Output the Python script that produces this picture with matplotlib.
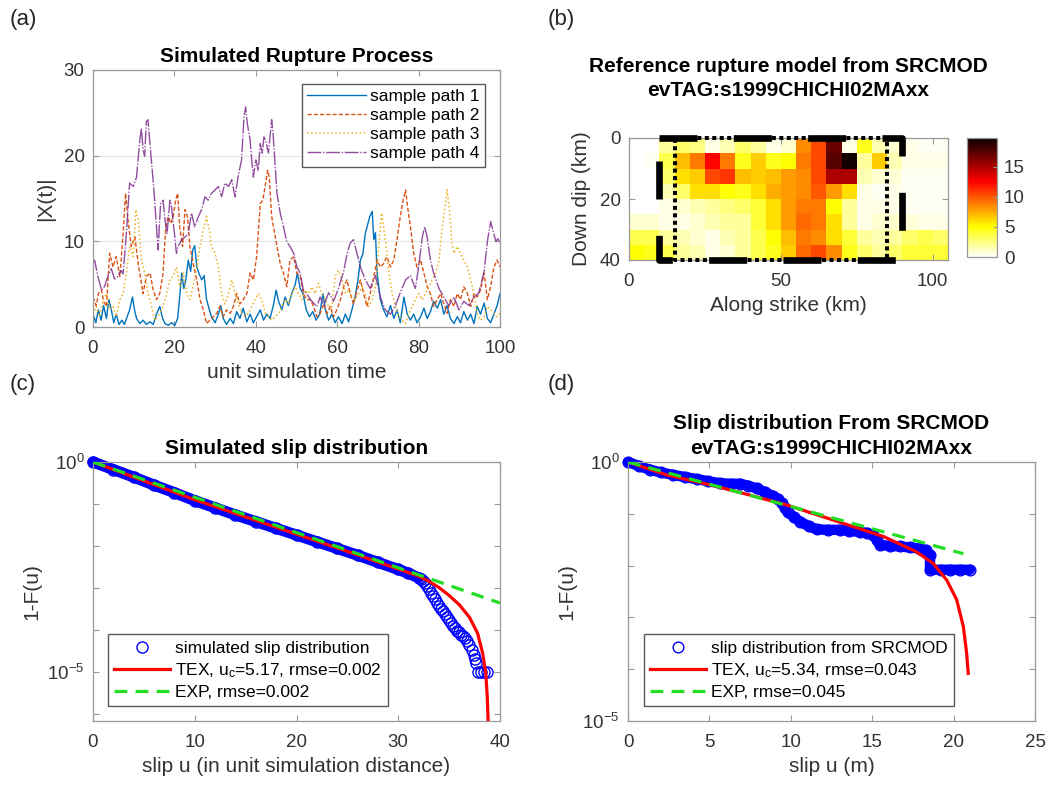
import numpy as np
import matplotlib
matplotlib.use('Agg')
import matplotlib.pyplot as plt
from matplotlib.lines import Line2D
from matplotlib.ticker import NullLocator

# ---------------- data ----------------
# (a) sample paths |X(t)|
path1_t = [0, 0.7, 1.3, 2.0, 2.6, 3.3, 3.9, 4.5, 5.1, 5.7, 6.4, 7.1, 7.7, 8.4, 9.0, 9.7, 10.2, 10.7,
           11.5, 12.3, 13.1, 14.0, 14.8, 15.6, 16.4, 17.1, 17.7, 18.5, 19.3, 20.1, 20.8, 21.3, 21.8,
           22.3, 22.8, 23.4, 24.0, 24.5, 25.0, 25.5, 26.0, 26.7, 27.3, 27.9, 28.6, 29.1, 30.0, 30.8,
           31.4, 32.0, 32.8, 33.7, 34.5, 35.3, 36.1, 36.9, 37.8, 38.6, 39.4, 40.2, 41.1, 41.9, 42.7,
           43.5, 44.3, 45.0, 45.6, 46.4, 47.2, 48.0, 48.9, 49.7, 50.2, 50.9, 51.6, 52.4, 53.2, 54.0,
           54.8, 55.7, 56.5, 57.1, 57.9, 58.7, 59.5, 60.3, 61.2, 62.0, 62.8, 63.6, 64.4, 65.1, 65.7,
           66.3, 66.9, 67.5, 68.0, 68.6, 69.0, 69.4, 69.8, 70.6, 71.4, 72.2, 73.1, 73.9, 74.7, 75.5,
           76.4, 77.2, 78.0, 78.8, 79.6, 80.5, 81.3, 82.1, 82.9, 83.7, 84.6, 85.4, 86.2, 87.0, 87.8,
           88.7, 89.5, 90.3, 91.1, 92.0, 92.8, 93.6, 94.4, 95.2, 96.1, 96.9, 97.7, 98.5, 99.3, 100]
path1_x = [1.5, 0.5, 2.0, 0.8, 2.5, 1.0, 3.2, 2.0, 0.5, 1.5, 0.3, 0.8, 0.3, 1.2, 2.0, 3.5, 2.0, 1.0,
           0.4, 0.8, 0.3, 0.6, 0.3, 1.5, 2.4, 1.0, 0.4, 0.2, 0.5, 0.2, 1.0, 3.5, 6.3,
           4.5, 5.5, 7.8, 6.5, 9.0, 9.5, 7.0, 6.3, 5.5, 6.0, 3.2, 2.0, 1.2, 0.5, 1.5,
           2.5, 1.0, 0.3, 1.0, 0.4, 1.8, 1.0, 2.2, 0.6, 1.5, 0.5, 1.2, 2.0, 0.8, 1.5,
           1.0, 2.5, 4.3, 3.0, 2.0, 3.5, 2.5, 4.0, 5.0, 6.3, 4.5, 3.9, 2.0, 1.2, 1.8,
           0.8, 1.5, 3.9, 2.0, 0.8, 1.5, 0.5, 1.2, 0.4, 1.5, 0.6, 2.0, 3.5, 5.5, 7.8,
           8.5, 10.9, 12.0, 12.9, 13.5, 10.2, 11.0, 6.3, 3.2, 2.0, 1.2, 2.5, 1.0, 2.0, 0.5,
           3.5, 1.5, 0.8, 1.5, 0.5, 1.2, 2.2, 1.0, 1.8, 3.0, 2.2, 3.2, 1.5, 2.5, 1.0,
           0.4, 1.2, 0.5, 1.8, 0.8, 1.5, 0.4, 2.4, 1.5, 2.8, 1.0, 0.5, 1.5, 2.5, 3.9]

path2_t = [0, 0.8, 1.4, 2.1, 2.6, 3.3, 4.1, 4.9, 5.7, 6.6, 7.4, 8.0, 8.6, 9.4, 10.3, 11.1, 11.5, 12.3,
           13.1, 14.0, 14.8, 15.6, 16.4, 17.2, 17.9, 18.5, 19.1, 19.7, 20.3, 20.8, 21.3, 22.0, 22.6,
           23.2, 23.8, 24.6, 25.5, 26.3, 27.1, 27.9, 28.7, 29.6, 30.4, 31.2, 32.0, 32.8, 33.7, 34.5,
           35.3, 36.1, 36.9, 37.8, 38.6, 39.4, 40.2, 41.1, 41.7, 42.3, 42.9, 43.3, 43.9, 44.5, 45.2,
           46.0, 46.8, 47.6, 48.4, 49.3, 50.1, 50.9, 51.7, 52.5, 53.4, 54.2, 55.0, 55.8, 56.7, 57.5,
           58.3, 59.1, 59.9, 60.8, 61.6, 62.4, 63.2, 64.0, 64.9, 65.7, 66.5, 67.3, 68.1, 69.0, 69.8,
           70.6, 71.4, 72.2, 73.1, 73.9, 74.7, 75.5, 76.2, 76.8, 77.3, 78.0, 78.8, 79.6, 80.5, 81.3,
           82.1, 82.9, 83.7, 84.6, 85.4, 86.2, 87.0, 87.8, 88.7, 89.5, 90.3, 91.1, 92.0, 92.8, 93.6,
           94.4, 95.2, 96.1, 96.9, 97.7, 98.5, 99.3, 100]
path2_x = [3.5, 2.5, 4.0, 4.3, 3.0, 2.4, 8.6, 7.0, 8.2, 5.9, 10.9, 15.6, 12.5, 9.4, 10.5, 7.4, 6.3, 3.9,
           5.9, 6.3, 4.3, 3.2, 3.9, 6.3, 11.7, 12.9, 12.1, 12.9, 14.8, 15.6, 11.7, 9.4, 13.7,
           12.9, 9.4, 7.4, 5.5, 3.2, 2.0, 0.4, 0.8, 1.2, 1.6, 2.4, 1.2, 2.0, 1.6, 2.4,
           3.9, 2.7, 3.2, 3.9, 6.3, 5.5, 8.2, 14.4, 14.8, 16.4, 18.3, 17.5, 12.9, 11.3, 9.4,
           7.4, 6.3, 4.7, 7.8, 8.2, 6.3, 5.9, 3.9, 3.2, 3.2, 2.4, 1.2, 1.6, 2.7, 1.6,
           2.4, 1.2, 2.0, 3.2, 4.7, 5.5, 3.9, 2.7, 4.3, 5.5, 3.9, 2.4, 3.9, 5.9, 7.8,
           7.0, 7.4, 8.2, 7.0, 7.8, 10.2, 12.9, 14.8, 16.0, 14.0, 11.7, 8.6, 7.0, 7.8, 6.3,
           4.7, 3.9, 2.4, 3.2, 3.9, 2.7, 1.6, 3.2, 2.4, 3.9, 3.2, 4.7, 3.9, 2.4, 3.9,
           3.5, 4.3, 6.3, 3.2, 4.7, 7.0, 7.8, 7.0]

path3_t = [0, 0.8, 1.6, 2.5, 3.3, 4.1, 4.9, 5.7, 6.6, 7.4, 8.2, 9.0, 9.9, 10.5, 11.1, 11.9, 12.7, 13.5,
           14.4, 15.2, 16.4, 17.2, 18.1, 18.9, 19.7, 20.5, 21.3, 22.2, 23.0, 23.8, 24.6, 25.5, 26.3,
           27.1, 27.9, 28.6, 29.1, 30.0, 30.8, 31.6, 32.4, 33.3, 34.1, 34.9, 35.7, 36.5, 37.4, 38.2,
           39.0, 39.8, 40.6, 41.5, 42.3, 43.1, 43.9, 44.7, 45.6, 46.4, 47.2, 48.0, 48.9, 49.7, 50.5,
           51.3, 52.1, 53.0, 53.8, 54.6, 55.4, 56.2, 57.1, 57.9, 58.7, 59.5, 60.3, 61.2, 62.0, 62.8,
           63.6, 64.4, 65.3, 66.1, 66.9, 67.7, 68.6, 69.4, 70.2, 70.9, 71.4, 72.0, 72.7, 73.5, 74.3,
           75.1, 75.9, 76.8, 77.6, 78.4, 79.2, 80.0, 80.9, 81.7, 82.5, 83.3, 84.2, 85.0, 85.8, 86.5,
           87.0, 87.6, 88.1, 88.7, 89.5, 90.3, 91.1, 92.0, 92.8, 93.6, 94.4, 95.2, 96.1, 96.9, 97.7,
           98.5, 99.3, 100]
path3_x = [1.5, 2.4, 1.2, 3.2, 3.9, 2.0, 2.4, 1.2, 3.2, 3.9, 6.3, 9.4, 8.2, 13.7, 12.5, 7.8, 6.3, 3.9,
           2.4, 0.8, 1.6, 2.4, 3.9, 5.5, 5.9, 7.0, 4.7, 6.3, 3.9, 3.2, 4.7, 7.0, 9.4,
           11.3, 12.9, 11.3, 9.4, 8.6, 7.0, 3.9, 2.7, 3.9, 5.5, 3.9, 2.7, 1.6, 1.2, 1.6,
           2.4, 3.2, 3.9, 3.2, 1.6, 1.2, 0.8, 1.2, 1.6, 2.4, 3.2, 2.7, 3.9, 4.7, 3.9,
           3.2, 4.3, 3.9, 4.7, 3.9, 5.1, 3.9, 3.2, 2.4, 2.4, 5.9, 6.6, 5.5, 3.9, 4.3,
           3.5, 3.2, 3.9, 4.7, 3.9, 2.4, 3.2, 4.7, 9.4, 13.3, 11.7, 9.4, 6.3, 3.9, 2.4,
           1.2, 0.8, 0.4, 1.6, 2.4, 3.2, 3.9, 3.2, 3.9, 4.7, 5.5, 6.3, 7.8, 11.7, 14.0,
           16.0, 13.7, 10.2, 8.6, 9.4, 8.6, 7.8, 7.0, 5.5, 3.9, 1.6, 0.8, 1.2, 2.4, 2.0,
           1.6, 1.2, 1.6]

path4_t = [0, 0.4, 1.2, 2.1, 2.9, 3.7, 4.5, 5.3, 6.1, 6.9, 7.4, 8.2, 9.0, 9.9, 10.7, 11.5, 11.9, 12.3,
           12.7, 13.1, 13.5, 14.4, 14.9, 15.6, 16.0, 16.6, 17.2, 17.7, 18.2, 18.9, 19.3, 20.1, 20.5,
           20.9, 21.8, 22.6, 23.4, 24.2, 25.0, 25.9, 26.7, 27.5, 28.3, 29.1, 30.0, 30.8, 31.6, 32.4,
           33.3, 34.1, 34.9, 35.7, 36.5, 37.1, 37.5, 37.9, 38.6, 39.0, 39.4, 40.0, 40.6, 41.1, 41.6,
           42.0, 42.4, 43.1, 43.9, 44.3, 45.2, 46.0, 46.8, 47.6, 48.4, 49.3, 50.1, 50.9, 51.7, 52.5,
           53.4, 54.2, 55.0, 55.8, 56.7, 57.9, 59.1, 60.3, 61.6, 62.4, 63.2, 64.0, 64.9, 65.7, 66.9,
           68.1, 69.4, 70.6, 71.8, 73.1, 74.3, 75.5, 76.8, 78.0, 79.2, 80.0, 80.9, 81.5, 82.1, 82.9,
           83.7, 85.0, 86.2, 87.4, 88.7, 89.9, 91.1, 92.4, 93.6, 94.8, 96.1, 96.9, 97.7, 98.4, 99.0,
           99.5, 100]
path4_x = [7.5, 7.8, 5.9, 4.3, 4.8, 6.0, 6.8, 5.6, 5.9, 6.6, 6.2, 10.9, 16.8, 16.4, 17.5, 21.8, 23.2, 20.7,
           19.9, 24.0, 24.2, 19.1, 16.4, 11.7, 9.0, 14.4, 14.8, 12.5, 10.9, 14.8, 14.0, 10.5, 8.6,
           9.4, 10.2, 10.5, 10.9, 13.3, 11.7, 12.9, 13.7, 15.2, 14.8, 15.6, 16.0, 16.4, 15.2, 16.8,
           16.4, 17.2, 15.2, 17.7, 19.5, 24.5, 25.7, 23.8, 21.8, 19.5, 17.5, 19.5, 18.3, 21.4, 20.3,
           22.2, 21.8, 20.3, 24.2, 22.2, 15.6, 13.3, 11.7, 10.0, 9.4, 8.6, 7.0, 6.3, 4.3, 3.9,
           3.2, 2.8, 2.4, 3.5, 2.5, 4.0, 3.0, 4.5, 6.5, 8.5, 9.8, 10.2, 8.5, 7.0, 5.5,
           4.5, 6.0, 3.5, 2.0, 1.5, 2.5, 4.0, 5.5, 6.0, 4.5, 7.0, 10.5, 11.7, 10.5, 7.8,
           6.3, 4.5, 3.5, 2.5, 3.5, 2.0, 3.0, 2.5, 3.5, 4.0, 6.5, 10.0, 12.3, 11.0, 10.0,
           10.3, 9.8]

path_labels = ['sample path 1', 'sample path 2', 'sample path 3', 'sample path 4']

# (b) SRCMOD slip model, 8 rows (down dip) x 21 columns (along strike), metres
strike_edges = np.arange(0, 106, 5)
dip_edges = np.arange(0, 41, 5)
slip_grid = np.array([
    [0, 0, 2, 3, 2.5, 0.5, 1.5, 3, 2, 0.5, 1, 8.5, 10.5, 17, 0.5, 4.5, 1.5, 1, 0.5, 0.3, 0.3],
    [0, 0.3, 3.5, 7, 9, 12.5, 9, 4.5, 6.5, 4.5, 5, 9, 10.5, 17.5, 19.5, 2, 6.5, 1.5, 0.5, 0.5, 0.5],
    [0, 0, 3, 6, 6.5, 10.5, 11, 7, 6.5, 7, 8, 8.5, 10.5, 15, 15, 1.5, 1, 0.8, 0.3, 0.3, 0.3],
    [0, 0, 1.5, 3, 6, 6, 5, 4.5, 6, 7.5, 8, 8.5, 10, 8, 6, 0.5, 0.3, 0.5, 0.3, 0.3, 0.3],
    [0, 0, 0.5, 1, 1.5, 2, 2.5, 3, 4, 6, 8, 9, 9, 5, 2, 0.5, 0.5, 0.5, 0.3, 0.3, 0.3],
    [1, 1, 0.5, 0.5, 1, 1.5, 2, 2, 4, 6, 8, 9.5, 9, 6, 2, 0.5, 1, 1, 0.8, 0.5, 0.5],
    [3.5, 3.5, 2, 1.5, 1, 0.5, 1.5, 2, 3.5, 5, 7, 9, 8.5, 6, 4, 2, 1.5, 2, 3, 3.5, 3],
    [5, 4.5, 3.5, 2, 1.5, 0.5, 1, 2, 3.5, 4.5, 6.5, 9.5, 10.5, 8.5, 4.5, 3, 2, 3, 4, 4, 4],
])
slip_max = 19.8
dashed_box_x = [10, 90, 90, 10, 10]
dashed_box_y = [0, 0, 40, 40, 0]
dotted_box_x = [15, 85, 85, 15, 15]
dotted_box_y = [0, 0, 40, 40, 0]

# (c) simulated slip distribution, log10(1-F)
sim_u = [0, 2, 4, 6, 8, 10, 12, 14, 16, 18, 20, 22, 24, 26, 28, 30, 31, 32,
         32.2, 32.4, 32.6, 32.8, 33.0, 33.2, 33.4, 33.6, 33.8, 34.0, 34.2, 34.4, 34.6, 34.8,
         35.0, 35.2, 35.4, 35.6, 35.8, 36.0, 36.2, 36.4, 36.6, 36.8, 37.0, 37.2, 37.4, 37.5,
         37.6, 37.8, 38.1, 38.4, 38.7]
sim_logp = [0, -0.18, -0.36, -0.55, -0.73, -0.92, -1.09, -1.26, -1.42, -1.58, -1.74, -1.9, -2.06,
            -2.22, -2.39, -2.56, -2.65, -2.76,
            -2.79, -2.83, -2.88, -2.95, -3.03, -3.11, -3.19, -3.27, -3.35, -3.42, -3.49, -3.56,
            -3.63, -3.70, -3.77, -3.84, -3.90, -3.96, -4.02, -4.06, -4.11, -4.15, -4.20, -4.27,
            -4.35, -4.47, -4.60, -4.70, -4.80, -5.0, -5.0, -5.0, -5.0]
sim_tex_u = [0, 5, 10, 15, 20, 25, 30, 32, 33, 34, 35, 36, 37, 37.8, 38.3, 38.6, 38.75, 38.85]
sim_tex_logp = [0, -0.45, -0.9, -1.31, -1.72, -2.13, -2.55, -2.72, -2.84, -2.99, -3.18, -3.4, -3.7,
                -4.08, -4.56, -5.03, -5.6, -6.3]
sim_exp_u = [0, 40]
sim_exp_logp = [0, -3.36]

# (d) SRCMOD slip distribution, log10(1-F)
src_u = [0, 0.7, 1.35, 2.0, 2.78, 3.5, 4.22, 4.9, 5.65, 6.3, 6.88, 7.4, 7.9, 8.4, 8.93, 9.2, 9.44,
         9.65, 9.85, 10.2, 10.57, 11.1, 11.59, 12.3, 13.0, 13.6, 14.25, 14.7, 15.07, 15.3, 15.48,
         16.1, 16.7, 17.3, 17.94, 18.3, 18.55, 18.55, 19.2, 19.78, 20.4, 21.0]
src_logp = [0, -0.08, -0.15, -0.2, -0.25, -0.29, -0.33, -0.37, -0.41, -0.42, -0.42, -0.46, -0.51,
            -0.58, -0.66, -0.72, -0.79, -0.88, -0.97, -1.07, -1.15, -1.24, -1.3, -1.31, -1.31,
            -1.33, -1.35, -1.37, -1.41, -1.5, -1.6, -1.62, -1.63, -1.65, -1.67, -1.7, -1.8, -2.08,
            -2.08, -2.08, -2.08, -2.08]
src_tex_u = [0, 2.38, 5.04, 7.5, 9.75, 12.6, 15.7, 17.7, 18.75, 19.58, 20.19, 20.6, 20.8, 20.9]
src_tex_logp = [0, -0.25, -0.44, -0.64, -0.83, -1.12, -1.44, -1.73, -1.96, -2.28, -2.66, -3.18,
                -3.69, -4.08]
src_exp_u = [0, 20.6]
src_exp_logp = [0, -1.77]

# ---------------- style ----------------
plt.rcParams['font.family'] = ['Liberation Sans', 'DejaVu Sans']
plt.rcParams['mathtext.default'] = 'regular'
plt.rcParams['xtick.direction'] = 'in'
plt.rcParams['ytick.direction'] = 'in'
plt.rcParams['xtick.top'] = True
plt.rcParams['ytick.right'] = True
plt.rcParams['axes.edgecolor'] = '0.6'
plt.rcParams['axes.linewidth'] = 0.9
plt.rcParams['xtick.color'] = '0.6'
plt.rcParams['ytick.color'] = '0.6'
plt.rcParams['xtick.labelcolor'] = '0.2'
plt.rcParams['ytick.labelcolor'] = '0.2'
plt.rcParams['xtick.labelsize'] = 13.5
plt.rcParams['ytick.labelsize'] = 13.5
plt.rcParams['xtick.major.pad'] = 9.5
plt.rcParams['ytick.major.pad'] = 6
plt.rcParams['xtick.major.size'] = 4
plt.rcParams['ytick.major.size'] = 4
plt.rcParams['axes.labelsize'] = 15
plt.rcParams['axes.labelcolor'] = '0.2'
plt.rcParams['axes.titlesize'] = 15
plt.rcParams['axes.titleweight'] = 'bold'
plt.rcParams['legend.fontsize'] = 12.5

fig = plt.figure(figsize=(10.5, 7.9), dpi=100)
W, H = 1050, 790

def px_axes(left, top, right, bottom):
    return fig.add_axes([left / W, 1 - bottom / H, (right - left) / W, (bottom - top) / H])

# ---------------- (a) ----------------
ax_a = px_axes(93, 70, 500, 327)
c1, c2, c3, c4 = '#0072BD', '#D95319', '#EDB120', '#7E2F8E'
ax_a.plot(path1_t, path1_x, '-', color=c1, lw=1.0, label=path_labels[0])
ax_a.plot(path2_t, path2_x, '--', color=c2, lw=1.0, dashes=(3, 1.5), label=path_labels[1])
ax_a.plot(path3_t, path3_x, ':', color=c3, lw=1.1, label=path_labels[2])
ax_a.plot(path4_t, path4_x, '-.', color=c4, lw=1.0, alpha=0.85, dashes=(10, 1.2, 1, 1.2),
          label=path_labels[3])
ax_a.set_xlim(0, 100)
ax_a.set_ylim(0, 30)
ax_a.set_xticks([0, 20, 40, 60, 80, 100])
ax_a.set_yticks([0, 10, 20, 30])
ax_a.yaxis.grid(True, color='0.9', lw=0.8)
ax_a.set_axisbelow(True)
ax_a.set_title('Simulated Rupture Process', pad=6)
ax_a.set_xlabel('unit simulation time', labelpad=4)
ax_a.set_ylabel('|X(t)|', labelpad=6)
ax_a.legend(loc='upper right', bbox_to_anchor=(0.963, 0.945), borderaxespad=0,
            fancybox=False, edgecolor='0.35', framealpha=1, handlelength=3.4,
            handletextpad=0.25, labelspacing=0.22, borderpad=0.3)

# ---------------- (b) ----------------
ax_b = px_axes(629, 138, 948, 260)
mesh = ax_b.pcolormesh(strike_edges, dip_edges, slip_grid, cmap='hot_r', vmin=0, vmax=slip_max,
                       shading='flat')
ax_b.plot(dashed_box_x, dashed_box_y, color='black', lw=4.8, linestyle=(0, (5.7, 5.45)),
          dash_capstyle='butt', clip_on=False, zorder=5)
ax_b.plot(dotted_box_x, dotted_box_y, color='black', lw=2.9, linestyle=(0, (1, 0.85)),
          dash_capstyle='butt', clip_on=False, zorder=6)
ax_b.set_xlim(0, 105)
ax_b.set_ylim(40, 0)
ax_b.set_xticks([0, 50, 100])
ax_b.set_yticks([0, 20, 40])
ax_b.set_title('Reference rupture model from SRCMOD\nevTAG:s1999CHICHI02MAxx', pad=30,
               linespacing=1.35)
ax_b.set_xlabel('Along strike (km)', labelpad=4)
ax_b.set_ylabel('Down dip (km)', labelpad=6)

cax = px_axes(967, 138, 997, 257)
cb = fig.colorbar(mesh, cax=cax, ticks=[0, 5, 10, 15])
cb.outline.set_edgecolor('0.6')
cax.tick_params(direction='in', length=3, color='0.6', labelsize=13.5, pad=5)

# ---------------- (c) ----------------
blue = '#0000FF'
ax_c = px_axes(93, 462, 500, 721)
sim_u_arr = np.array(sim_u)
sim_p = 10.0 ** np.array(sim_logp)
dense = sim_u_arr <= 32
ax_c.plot(sim_u_arr[dense], sim_p[dense], color=blue, lw=8, solid_capstyle='round',
          clip_on=False, zorder=2)
ax_c.plot(sim_u_arr, sim_p, 'o', mfc='none', mec=blue, ms=8, mew=1.0, clip_on=False, zorder=2)
ax_c.plot(sim_tex_u, 10.0 ** np.array(sim_tex_logp), color='red', lw=2.3, zorder=3)
ax_c.plot(sim_exp_u, 10.0 ** np.array(sim_exp_logp), color='#22DD22', lw=2.3,
          linestyle=(0, (4, 2.6)), zorder=4)
ax_c.set_yscale('log')
ax_c.set_xlim(0, 40)
ax_c.set_ylim(10 ** -6.17, 1)
ax_c.set_xticks([0, 10, 20, 30, 40])
ax_c.set_yticks([10.0 ** k for k in range(0, -7, -1)])
ax_c.set_yticklabels(['$10^{0}$', '', '', '', '', '$10^{-5}$', ''])
ax_c.yaxis.set_minor_locator(NullLocator())
ax_c.set_title('Simulated slip distribution', pad=6)
ax_c.set_xlabel('slip u (in unit simulation distance)', labelpad=4)
ax_c.set_ylabel('1-F(u)', labelpad=4)
handles_c = [Line2D([], [], ls='none', marker='o', mfc='none', mec=blue, ms=8, mew=1.0),
             Line2D([], [], color='red', lw=2.3),
             Line2D([], [], color='#22DD22', lw=2.3, linestyle=(0, (4, 2.6)))]
ax_c.legend(handles_c, ['simulated slip distribution', r'TEX, u$_{c}$=5.17, rmse=0.002',
                        'EXP, rmse=0.002'],
            loc='lower left', bbox_to_anchor=(0.037, 0.058), borderaxespad=0,
            fancybox=False, edgecolor='0.35', framealpha=1, handlelength=3.2,
            handletextpad=0.3, labelspacing=0.3, borderpad=0.35)

# ---------------- (d) ----------------
ax_d = px_axes(628, 462, 1035, 721)
src_p = 10.0 ** np.array(src_logp)
ax_d.plot(src_u, src_p, color=blue, lw=7.5, solid_capstyle='round', clip_on=False, zorder=2)
ax_d.plot(src_u, src_p, 'o', mfc='none', mec=blue, ms=7.7, mew=1.0, clip_on=False, zorder=2)
ax_d.plot(src_tex_u, 10.0 ** np.array(src_tex_logp), color='red', lw=2.3, zorder=3)
ax_d.plot(src_exp_u, 10.0 ** np.array(src_exp_logp), color='#22DD22', lw=2.3,
          linestyle=(0, (4, 2.6)), zorder=4)
ax_d.set_yscale('log')
ax_d.set_xlim(0, 25)
ax_d.set_ylim(1e-5, 1)
ax_d.set_xticks([0, 5, 10, 15, 20, 25])
ax_d.set_yticks([10.0 ** k for k in range(0, -6, -1)])
ax_d.set_yticklabels(['$10^{0}$', '', '', '', '', '$10^{-5}$'])
ax_d.yaxis.set_minor_locator(NullLocator())
ax_d.set_title('Slip distribution From SRCMOD\nevTAG:s1999CHICHI02MAxx', pad=6, linespacing=1.35)
ax_d.set_xlabel('slip u (m)', labelpad=4)
ax_d.set_ylabel('1-F(u)', labelpad=4)
handles_d = [Line2D([], [], ls='none', marker='o', mfc='none', mec=blue, ms=7.7, mew=1.0),
             Line2D([], [], color='red', lw=2.3),
             Line2D([], [], color='#22DD22', lw=2.3, linestyle=(0, (4, 2.6)))]
ax_d.legend(handles_d, ['slip distribution from SRCMOD', r'TEX, u$_{c}$=5.34, rmse=0.043',
                        'EXP, rmse=0.045'],
            loc='lower left', bbox_to_anchor=(0.039, 0.058), borderaxespad=0,
            fancybox=False, edgecolor='0.35', framealpha=1, handlelength=3.2,
            handletextpad=0.3, labelspacing=0.3, borderpad=0.35)

# panel letters
for lab, x, y in [('(a)', 10, 20), ('(b)', 548, 20), ('(c)', 10, 385), ('(d)', 548, 385)]:
    fig.text(x / W, 1 - y / H, lab, fontsize=16, color='0.15', va='center', ha='left')

fig.savefig('out.png', dpi=100)
